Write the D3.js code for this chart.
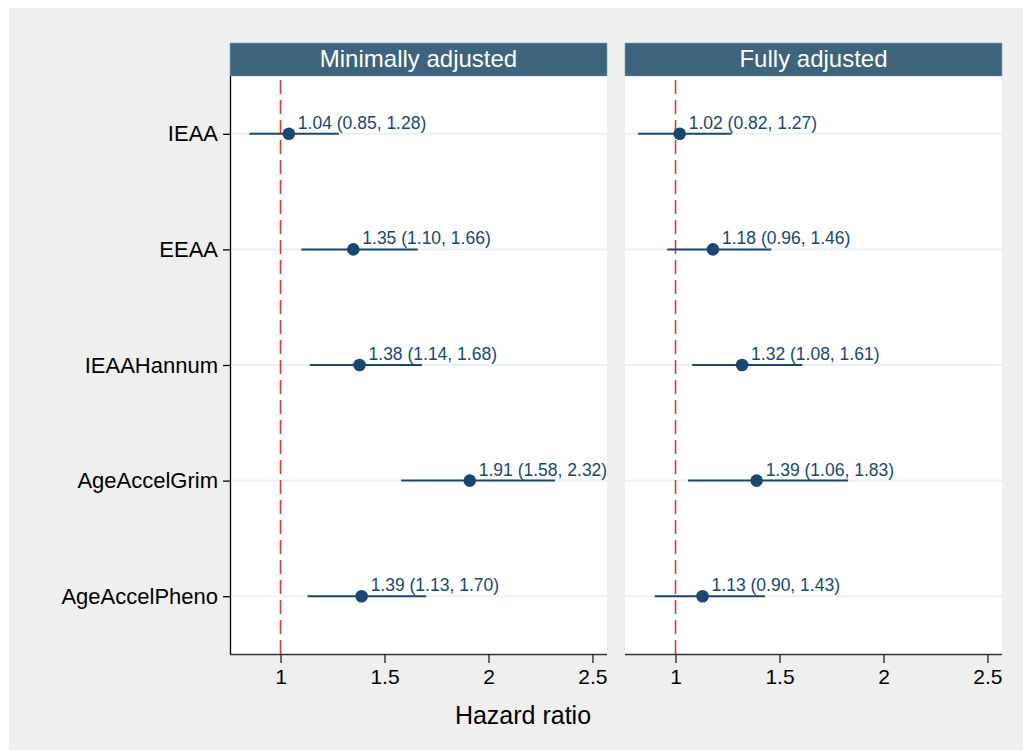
<!DOCTYPE html>
<html>
<head>
<meta charset="utf-8">
<script src="https://cdn.jsdelivr.net/npm/d3@7"></script>
<style>
  html, body { margin: 0; padding: 0; background: #fff; }
  svg { display: block; font-family: "Liberation Sans", Arial, sans-serif; }
</style>
</head>
<body>
<div id="chart"></div>
<script>
// Данные
const measures = ['IEAA', 'EEAA', 'IEAAHannum', 'AgeAccelGrim', 'AgeAccelPheno']
const panels = ['Minimally adjusted', 'Fully adjusted']
const hrMin = [1.04, 1.35, 1.38, 1.91, 1.39]
const lowMin = [0.85, 1.10, 1.14, 1.58, 1.13]
const highMin = [1.28, 1.66, 1.68, 2.32, 1.70]
const hrFull = [1.02, 1.18, 1.32, 1.39, 1.13]
const lowFull = [0.82, 0.96, 1.08, 1.06, 0.90]
const highFull = [1.27, 1.46, 1.61, 1.83, 1.43]
const xTicks = [1, 1.5, 2, 2.5]
const xTitle = 'Hazard ratio'

const series = [
  { hr: hrMin, low: lowMin, high: highMin },
  { hr: hrFull, low: lowFull, high: highFull }
]

// Настройки
const width = 1023
const height = 751
const colors = {
  outer: '#efefef',
  strip: '#3e647d',
  grid: '#eaf1f3',
  mark: '#1a476f',
  ref: '#f03232',
  axis: '#000'
}
const panelLeft = [230, 625]
const panelWidth = 377
const stripTop = 43
const plotTop = 76
const plotBottom = 654

const fmt = d3.format('.2f')

const svg = d3.select('#chart')
  .append('svg')
  .attr('width', width)
  .attr('height', height)

svg.append('rect')
  .attr('x', 9).attr('y', 8)
  .attr('width', width - 9).attr('height', height - 9)
  .attr('fill', colors.outer)

const yScale = d3.scalePoint()
  .domain(measures)
  .range([plotTop, plotBottom])
  .padding(0.5)

panels.forEach((title, p) => {
  const x0 = panelLeft[p]
  const s = series[p]
  const rows = measures.map((m, i) => ({ m, hr: s.hr[i], low: s.low[i], high: s.high[i] }))

  const xScale = d3.scaleLinear()
    .domain([0.757, 2.57])
    .range([x0, x0 + panelWidth])

  const g = svg.append('g')

  // Область построения
  g.append('rect')
    .attr('x', x0).attr('y', plotTop)
    .attr('width', panelWidth).attr('height', plotBottom - plotTop)
    .attr('fill', '#fff')

  // Заголовок панели
  g.append('rect')
    .attr('x', x0).attr('y', stripTop)
    .attr('width', panelWidth).attr('height', plotTop - stripTop)
    .attr('fill', colors.strip)
    .attr('stroke', '#8aa0b0')
    .attr('stroke-width', 0.6)

  g.append('text')
    .attr('x', x0 + panelWidth / 2)
    .attr('y', 67)
    .attr('text-anchor', 'middle')
    .attr('fill', '#fff')
    .attr('font-size', '24px')
    .text(title)

  // Сетка
  g.selectAll('.grid')
    .data(measures)
    .enter()
    .append('line')
    .attr('x1', x0).attr('x2', x0 + panelWidth)
    .attr('y1', d => yScale(d)).attr('y2', d => yScale(d))
    .attr('stroke', colors.grid)
    .attr('stroke-width', 2)

  // Линия HR = 1
  g.append('line')
    .attr('x1', xScale(1)).attr('x2', xScale(1))
    .attr('y1', plotTop + 4).attr('y2', plotBottom)
    .attr('stroke', colors.ref)
    .attr('stroke-width', 1.6)
    .attr('stroke-dasharray', '14,6')

  // Доверительные интервалы
  g.selectAll('.ci')
    .data(rows)
    .enter()
    .append('line')
    .attr('x1', d => xScale(d.low)).attr('x2', d => xScale(d.high))
    .attr('y1', d => yScale(d.m)).attr('y2', d => yScale(d.m))
    .attr('stroke', colors.mark)
    .attr('stroke-width', 2)

  // Точки
  g.selectAll('.dot')
    .data(rows)
    .enter()
    .append('circle')
    .attr('cx', d => xScale(d.hr))
    .attr('cy', d => yScale(d.m))
    .attr('r', 6.3)
    .attr('fill', colors.mark)

  // Подписи
  g.selectAll('.lbl')
    .data(rows)
    .enter()
    .append('text')
    .attr('x', d => xScale(d.hr) + 9)
    .attr('y', d => yScale(d.m) - 5)
    .attr('fill', colors.mark)
    .attr('font-size', '17.5px')
    .text(d => `${fmt(d.hr)} (${fmt(d.low)}, ${fmt(d.high)})`)

  // Ось X
  const xAxis = g.append('g')
    .attr('transform', `translate(0,${plotBottom})`)
    .call(d3.axisBottom(xScale)
      .tickValues(xTicks)
      .tickFormat(d3.format('~g'))
      .tickSize(9)
      .tickPadding(6)
    )
  xAxis.select('.domain')
    .attr('d', `M${x0},0.5H${x0 + panelWidth}`)
    .attr('stroke', '#333')
    .attr('stroke-width', 1.5)
  xAxis.selectAll('.tick line').attr('stroke', '#222').attr('stroke-width', 1.3)
  xAxis.selectAll('text')
    .attr('fill', '#000')
    .style('font-size', '21px')
    .style('font-family', '"Liberation Sans", Arial, sans-serif')

  // Ось Y (только слева)
  if (p === 0) {
    const yAxis = g.append('g')
      .attr('transform', `translate(${x0},0)`)
      .call(d3.axisLeft(yScale).tickSize(7).tickPadding(5))
    yAxis.select('.domain')
      .attr('d', `M0.5,${plotTop}V${plotBottom}`)
      .attr('stroke', colors.axis)
      .attr('stroke-width', 1.3)
    yAxis.selectAll('.tick line').attr('stroke', colors.axis).attr('stroke-width', 1.3)
    yAxis.selectAll('text')
      .attr('fill', '#000')
      .style('font-size', '22px')
      .style('font-family', '"Liberation Sans", Arial, sans-serif')
  }
})

// Подпись оси X
svg.append('text')
  .attr('x', 523)
  .attr('y', 724)
  .attr('text-anchor', 'middle')
  .attr('fill', '#000')
  .attr('font-size', '25px')
  .text(xTitle)
</script>
</body>
</html>
